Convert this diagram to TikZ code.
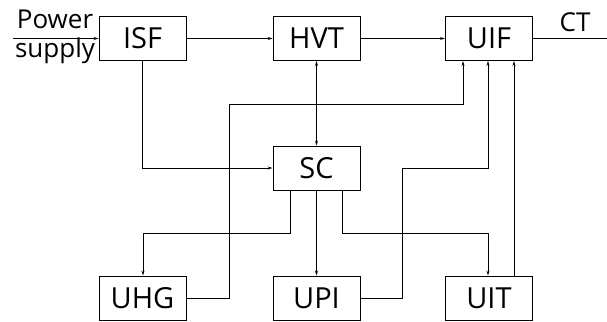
\documentclass[tikz,border=0pt]{standalone}
\usepackage{fontspec}
\setmainfont{Open Sans}
\usetikzlibrary{arrows.meta}
\begin{document}
\begin{tikzpicture}[x=1pt,y=-1pt,
  blk/.style={draw, line width=0.9pt, minimum width=87pt, minimum height=44pt, inner sep=0pt, font=\fontsize{29}{32}\selectfont},
  con/.style={line width=0.9pt, -{Stealth[length=5pt,width=3pt]}},
  lbl/.style={font=\fontsize{26}{30}\selectfont, inner sep=0pt}]
\useasboundingbox (0,0) rectangle (607,321);
\node[blk] (isf) at (142.5,38.5) {ISF};
\node[blk] (hvt) at (316.5,38.5) {HVT};
\node[blk] (uif) at (489,38.5) {UIF};
\node[blk] (sc) at (316.5,168) {SC};
\node[blk] (uhg) at (142.5,298) {UHG};
\node[blk] (upi) at (316.5,298) {UPI};
\node[blk] (uit) at (489,298) {UIT};
\node[lbl, anchor=base] (pw) at (55,29) {Power};
\node[lbl, anchor=base] (sp) at (55,58) {supply};
\node[lbl, anchor=base] (ct) at (575,32) {CT};
\coordinate (pin) at (13,38.5);
\coordinate (ctout) at (607,38.5);
\draw[con] (pin) -- (isf.west);
\draw[line width=0.9pt] (uif.east) -- (ctout);
\draw[con] (isf) -- (hvt);
\draw[con] (hvt) -- (uif);
\draw[line width=0.9pt, {Stealth[length=5pt,width=3pt]}-{Stealth[length=5pt,width=3pt]}] (hvt) -- (sc);
\draw[con] (isf.south) |- (sc.west);
\draw[con] (sc.south -| 290,0) |- (143,233) -- (uhg.north -| 143,0);
\draw[con] (sc) -- (upi);
\draw[con] (sc.south -| 342,0) |- (488,233) -- (uit.north -| 488,0);
\draw[con] (uhg.east) -| (229,104) -| (uif.south -| 463,0);
\draw[con] (upi.east) -| (402,168) -| (uif.south -| 488,0);
\draw[con] (uit.north -| 514,0) -- (uif.south -| 514,0);
\end{tikzpicture}
\end{document}
